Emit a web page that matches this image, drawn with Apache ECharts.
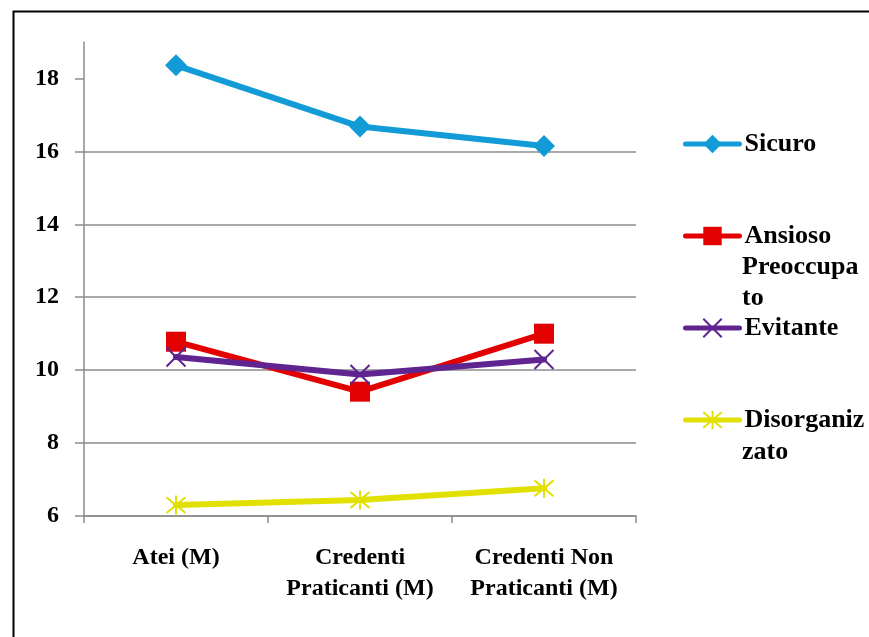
<!DOCTYPE html>
<html>
<head>
<meta charset="utf-8">
<script src="https://cdn.jsdelivr.net/npm/echarts@6/dist/echarts.min.js"></script>
<style>
  html, body { margin: 0; padding: 0; background: #fff; }
  #chart { width: 869px; height: 637px; }
</style>
</head>
<body>
<div id="chart"></div>
<script>
// Group means by attachment style
var categories = ['Atei (M)', 'Credenti\nPraticanti (M)', 'Credenti Non\nPraticanti (M)'];
var sicuro = [18.36, 16.68, 16.15];
var ansioso = [10.78, 9.41, 11.0];
var evitante = [10.36, 9.88, 10.29];
var disorganizzato = [6.30, 6.44, 6.76];
var yTicks = [6, 8, 10, 12, 14, 16, 18];

var FONT = 'Liberation Serif';
var crossPath = 'path://M0 0 L10 10 M10 0 L0 10';
var starPath = 'path://M0 0 L10 10 M10 0 L0 10 M5 -1 L5 11';

function lineSeries(name, data, color, symbol, size, stroked) {
  return {
    name: name,
    type: 'line',
    data: data,
    symbol: symbol,
    symbolSize: size,
    lineStyle: { color: color, width: 6, cap: 'round' },
    itemStyle: stroked
      ? { color: 'rgba(0,0,0,0)', borderColor: color, borderWidth: 2 }
      : { color: color, borderWidth: 0 },
    emphasis: { disabled: true },
    z: 3
  };
}

var chart = echarts.init(document.getElementById('chart'), null, { renderer: 'canvas' });
chart.setOption({
  animation: false,
  backgroundColor: '#fff',
  grid: { left: 84, right: 233, top: 42, bottom: 121, containLabel: false },
  xAxis: {
    type: 'category',
    data: categories,
    boundaryGap: true,
    axisLine: { lineStyle: { color: '#8c8c8c', width: 1.5 } },
    axisTick: { show: true, length: 7, lineStyle: { color: '#8c8c8c', width: 1.5 } },
    axisLabel: {
      interval: 0,
      margin: 26,
      fontFamily: FONT, fontWeight: 'bold', fontSize: 24, lineHeight: 31, color: '#000'
    },
    splitLine: { show: false }
  },
  yAxis: {
    type: 'value',
    min: 6, max: 19, interval: 2,
    axisLine: { show: true, lineStyle: { color: '#8c8c8c', width: 1.5 } },
    axisTick: { show: true, length: 9, customValues: yTicks, lineStyle: { color: '#8c8c8c', width: 1.5 } },
    axisLabel: {
      customValues: yTicks,
      margin: 25,
      fontFamily: FONT, fontWeight: 'bold', fontSize: 24, color: '#000'
    },
    splitLine: { show: true, showMaxLine: false, lineStyle: { color: '#8c8c8c', width: 1.5 } }
  },
  legend: {
    orient: 'vertical',
    left: 683, top: 129,
    padding: 0,
    itemWidth: 54, itemHeight: 23, itemGap: 62,
    selectedMode: false,
    data: ['Sicuro', 'Ansioso Preoccupato', 'Evitante', 'Disorganizzato'],
    formatter: function (n) {
      return { 'Ansioso Preoccupato': 'Ansioso', 'Disorganizzato': 'Disorganiz' }[n] || n;
    },
    lineStyle: { width: 5, cap: 'round' },
    textStyle: { fontFamily: FONT, fontWeight: 'bold', fontSize: 26, lineHeight: 30, color: '#000' }
  },
  graphic: [
    {
      type: 'rect', left: 11, top: 9, silent: true,
      shape: { width: 900, height: 700 },
      style: { fill: 'none', stroke: '#000', lineWidth: 2 }
    },
    {
      type: 'text', left: 742, top: 252, silent: true,
      style: { text: 'Preoccupa\nto', font: 'bold 26px "Liberation Serif"', lineHeight: 31, fill: '#000' }
    },
    {
      type: 'text', left: 742, top: 437, silent: true,
      style: { text: 'zato', font: 'bold 26px "Liberation Serif"', lineHeight: 31, fill: '#000' }
    }
  ],
  series: [
    lineSeries('Sicuro', sicuro, '#129bd6', 'diamond', 22, false),
    lineSeries('Ansioso Preoccupato', ansioso, '#e30000', 'rect', 20, false),
    lineSeries('Evitante', evitante, '#5f2490', crossPath, 19, true),
    lineSeries('Disorganizzato', disorganizzato, '#e2e000', starPath, 19, true)
  ]
});
</script>
</body>
</html>
